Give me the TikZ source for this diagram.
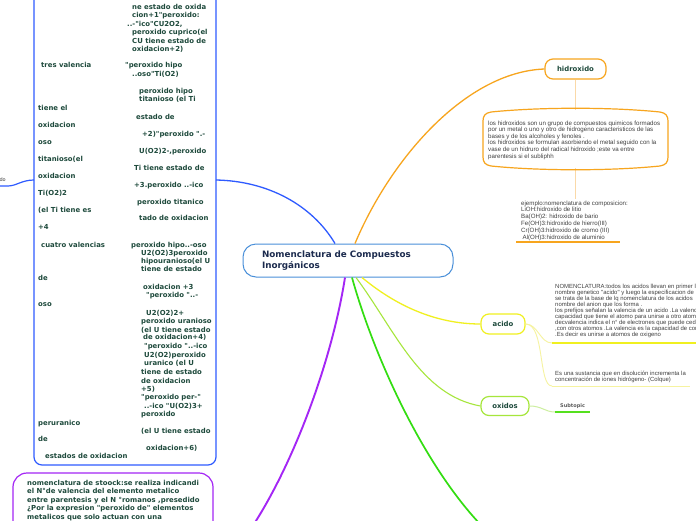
\documentclass[tikz,border=0pt]{standalone}
\usepackage{fontspec}
\setmainfont{DejaVu Sans}[Ligatures=TeXOff]
\newfontfamily\arialf{Liberation Sans}[Ligatures=TeXOff]
\usetikzlibrary{calc}
\definecolor{dgreen}{HTML}{1E4A3C}
\definecolor{navy}{HTML}{1C2B4E}
\definecolor{cblue}{HTML}{4A90D9}
\definecolor{bblue}{HTML}{2F5BFF}
\definecolor{orng}{HTML}{F7A51E}
\definecolor{lorng}{HTML}{FAD9A8}
\definecolor{yel}{HTML}{F0F020}
\definecolor{lyel}{HTML}{F6F3A0}
\definecolor{lgrn}{HTML}{A6E63C}
\definecolor{llgrn}{HTML}{CDEFA0}
\definecolor{grn}{HTML}{33DD11}
\definecolor{purp}{HTML}{A426F5}
\definecolor{gtext}{HTML}{404040}
\tikzset{
 lt/.style={anchor=base west,inner sep=0pt,text=dgreen,font=\fontsize{6.9}{8}\selectfont\bfseries},
 gt/.style={anchor=base west,inner sep=0pt,text=gtext,font=\arialf\fontsize{6.15}{6.7}\selectfont},
 acitext/.style={anchor=base west,inner sep=0pt,text=gtext,font=\arialf\fontsize{5.95}{6.5}\selectfont},
 topic/.style={draw,line width=1.2pt,rounded corners=8pt,fill=white,inner sep=0pt,text=dgreen,font=\fontsize{6.9}{8}\selectfont\bfseries},
}
\begin{document}
\begin{tikzpicture}[x=1pt,y=-1pt]
\useasboundingbox (0,0) rectangle (696,520);
\clip (0,0) rectangle (696,520);
\fill[white] (0,0) rectangle (696,520);

% ---------- nodes ----------
\node[draw=bblue,line width=1.2pt,rounded corners=8pt,minimum width=182pt,minimum height=490pt,inner sep=0pt] (lbox) at (125,220) {};
\coordinate (lin) at (216,180);
\coordinate (lout) at (34,180);
\coordinate (lend) at (0,186);
\node[font=\fontsize{5}{6}\selectfont,text=gtext,anchor=base east,inner sep=0pt] (dot) at (6,181) {do};

\node[draw=cblue,line width=1pt,rounded corners=13pt,fill=white,minimum width=210pt,minimum height=33pt,text width=172pt,align=left,inner xsep=19pt,inner ysep=0pt,text=navy,font=\fontsize{8.8}{11}\selectfont\bfseries] (main) at (348,260.5) {Nomenclatura de Compuestos\\Inorgánicos};

\node[topic,draw=orng,minimum width=61pt,minimum height=20pt] (hid) at (575.5,69) {hidroxido};
\node[topic,draw=yel,minimum width=44pt,minimum height=20pt] (aci) at (503,324) {acido};
\node[topic,draw=lgrn,minimum width=48pt,minimum height=19pt] (oxi) at (505,406) {oxidos};

\node[minimum width=185pt,minimum height=58pt,inner sep=0pt] (hdesc) at (575.5,139) {};
\node[draw=purp,line width=1.2pt,rounded corners=14pt,minimum width=200pt,minimum height=80pt,inner sep=0pt] (pbox) at (113,513) {};

\coordinate (ac1) at (552,343);
\coordinate (ac2) at (552,386);
\coordinate (subl) at (555,412);
\coordinate (subr) at (590,412);
\coordinate (gend) at (480,524);
\coordinate (pend) at (254,524);

% ---------- connectors ----------
\draw[bblue,line width=1.3pt] ([xshift=-13pt]main.north) .. controls (312,205) and (268,181) .. (lin);
\draw[bblue,line width=1.2pt] (lout) .. controls (22,180) and (16,186) .. (8,186) -- (lend);
\draw[orng,line width=1.3pt] ([xshift=7pt]main.north) .. controls (390,160) and (465,72) .. (hid.west);
\draw[yel,line width=1.3pt] ([xshift=14pt]main.south) .. controls (395,305) and (435,324) .. (aci.west);
\draw[lgrn,line width=1.1pt] ([xshift=8pt]main.south) .. controls (395,330) and (420,395) .. (oxi.west);
\draw[grn,line width=1.7pt] ([xshift=4pt]main.south) .. controls (372,350) and (420,460) .. (gend);
\draw[purp,line width=1.9pt] ([xshift=-3pt]main.south) .. controls (332,360) and (295,460) .. (pend);

\draw[lorng,line width=1pt] (hid.south) -- (hdesc.north);
\draw[lorng,line width=1pt] (hdesc.south) -- ++(0,31);
\draw[orng,line width=1.2pt] (491,112) .. controls (540,107) and (611,107) .. (660,112) .. controls (666,113) and (668,116) .. (668,121) -- (668,157) .. controls (668,162) and (666,165) .. (660,166) .. controls (611,171) and (540,171) .. (491,166) .. controls (485,165) and (483,162) .. (483,157) -- (483,121) .. controls (483,116) and (485,113) .. (491,112) -- cycle;
\draw[orng,line width=1.5pt] (516,242) -- (620,242);

\draw[lyel,line width=0.9pt] (aci.east) .. controls (538,324) and (540,343) .. (ac1);
\draw[lyel,line width=0.9pt] (aci.east) .. controls (545,324) and (538,386) .. (ac2);
\draw[yel,line width=1.3pt] (ac1) -- (700,343);
\draw[lyel,line width=0.9pt] (ac2) -- (690,386);

\draw[llgrn,line width=1pt] (oxi.east) .. controls (542,406) and (545,412) .. (subl);
\draw[grn!70!lgrn,line width=1.4pt] (subl) -- (subr);
\node[anchor=west,inner sep=0pt,text=gtext!85,font=\fontsize{5}{6}\selectfont\bfseries] (sub) at (560,406.5) {Subtopic};

% ---------- gray texts ----------
\foreach \t [count=\i] in {{los hidroxidos son un grupo de compuestos quimicos formados},{por un metal o uno y otro de hidrogeno  caracteristicos de las},{bases  y  de los alcoholes  y fenoles .},{los hidroxidos se formulan asorbiendo el metal seguido con la},{vase de un hidruro del radical hidroxido ;este va entre},{parentesis si el subliphh}}
  \node[gt] (hd\i) at (488,{125+6.6*(\i-1)}) {\t};

\foreach \t [count=\i] in {{ejemplo:nomenclatura de composicion:},{LiOH:hidroxido de litio},{Ba(OH)2: hidroxido de bario},{Fe(OH)3:hidroxido de hierro(III)},{Cr(OH)3:hidroxido  de cromo (III)},{\hspace{1.5pt}Al(OH)3:hidroxido de aluminio}}
  \node[gt] (ej\i) at (521,{205+6.8*(\i-1)}) {\t};

\foreach \t [count=\i] in {{NOMENCLATURA:todos los acidos llevan en primer lugar},{nombre genetico "acido" y luego la especificacion de},{se trata de la base de lq nomenclatura  de los acidos},{nombre del anion que los forma .},{los prefijos señalan la valencia  de un acido .La valencia},{capacidad que tiene el atomo para unirse  a otro atomo},{decvalencia indica el n° de electrones  que puede ceder},{,con otros atomos .La valencia es la capacidad de combinarse},{.Es decir es unirse a atomos de oxigeno}}
  \node[acitext] (an\i) at (555,{288+6.1*(\i-1)}) {\t};

\node[acitext] (es1) at (555,375) {Es una sustancia que en disolución incrementa la};
\node[acitext] (es2) at (555,381) {concentración de iones hidrógeno- (Colque)};

% ---------- purple box text ----------
\foreach \t [count=\i] in {{nomenclatura de stoock:se realiza indicandi},{el N°de valencia del elemento metalico},{entre parentesis y el N °romanos ,presedido},{¿Por la expresion "peroxido de" elementos},{metalicos que solo actuan con una}}
  \node[lt] (pt\i) at (27,{485.3+8.5*(\i-1)}) {\t};

% ---------- left box text ----------
\node[lt] (r1) at (132,9.3) {ne estado de oxida};
\node[lt] (r2) at (132,17.3) {cion+1"peroxido:};
\node[lt] (r3) at (127,26.3) {..-"ico"CU2O2,};
\node[lt] (r4) at (132,34.3) {peroxido cuprico(el};
\node[lt] (r5) at (132,43.3) {CU tiene estado de};
\node[lt] (r6) at (132,51.3) {oxidacion+2)};
\node[lt] (l1) at (41,67.3) {tres valencia};
\node[lt] (r7) at (125,67.3) {"peroxido hipo};
\node[lt] (r8) at (132,76.3) {..oso"Ti(O2)};
\node[lt] (r9) at (139,93.3) {peroxido hipo};
\node[lt] (r10) at (139,101.3) {titanioso (el Ti};
\node[lt] (l2) at (38,110.3) {tiene el};
\node[lt] (r11) at (136,119.3) {estado de};
\node[lt] (l3) at (38,127.3) {oxidacion};
\node[lt] (r12) at (142,136.3) {+2)"peroxido ".-};
\node[lt] (l4) at (38,144.3) {oso};
\node[lt] (r13) at (139,153.3) {U(O2)2-,peroxido};
\node[lt] (l5) at (38,161.3) {titanioso(el};
\node[lt] (r14) at (134,170.3) {Ti tiene estado de};
\node[lt] (l6) at (38,178.3) {oxidacion};
\node[lt] (r15) at (134,187.3) {+3.peroxido ..-ico};
\node[lt] (l7) at (38,195.3) {Ti(O2)2};
\node[lt] (r16) at (137,204.3) {peroxido titanico};
\node[lt] (l8) at (38,212.3) {(el Ti tiene es};
\node[lt] (r17) at (139,220.3) {tado de oxidacion};
\node[lt] (l9) at (38,229.8) {+4};
\node[lt] (l10) at (41,247.3) {cuatro valencias};
\node[lt] (r18) at (131,247.3) {peroxido hipo..-oso};
\node[lt] (r19) at (141,255.3) {U2(O2)3peroxido};
\node[lt] (r20) at (141,263.3) {hipouranioso(el U};
\node[lt] (r21) at (141,271.3) {tiene de estado};
\node[lt] (l11) at (38,280.3) {de};
\node[lt] (r22) at (143,289.3) {oxidacion +3};
\node[lt] (r23) at (146,297.3) {"peroxido "..-};
\node[lt] (l12) at (38,306.3) {oso};
\node[lt] (r24) at (146,315.3) {U2(O2)2+};
\node[lt] (r25) at (141,323.3) {peroxido uranioso};
\node[lt] (r26) at (141,332.3) {(el U tiene estado};
\node[lt] (r27) at (143,339.8) {de oxidacion+4)};
\node[lt] (r28) at (144,348.3) {"peroxido "..-ico};
\node[lt] (r29) at (144,357.3) {U2(O2)peroxido};
\node[lt] (r30) at (144,365.3) {uranico (el U};
\node[lt] (r31) at (141,374.3) {tiene de estado};
\node[lt] (r32) at (141,383.3) {de oxidacion};
\node[lt] (r33) at (141,391.3) {+5)};
\node[lt] (r34) at (141,399.3) {"peroxido per-"};
\node[lt] (r35) at (144,408.3) {..-ico "U(O2)3+};
\node[lt] (r36) at (141,416.3) {peroxido};
\node[lt] (l13) at (38,425.3) {peruranico};
\node[lt] (r37) at (141,433.3) {(el U tiene estado};
\node[lt] (l14) at (38,441.3) {de};
\node[lt] (r38) at (146,450.3) {oxidacion+6)};
\node[lt] (l15) at (45,458.3) {estados de oxidacion};
\end{tikzpicture}
\end{document}
